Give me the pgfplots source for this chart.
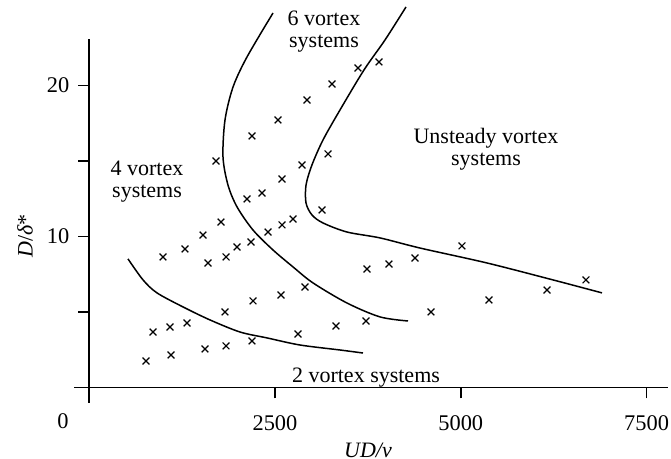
\documentclass[border=0pt]{standalone}
\usepackage{fontspec}
\setmainfont{Liberation Serif}
\usepackage{pgfplots}
\pgfplotsset{compat=1.18}
\begin{document}
\fontsize{11}{13}\selectfont
\begin{tikzpicture}
\begin{axis}[
  scale only axis, width=297.0pt, height=182.05pt,
  xmin=-200, xmax=7790, ymin=-1, ymax=23.1,
  axis lines=middle,
  axis line style={-, line width=0.8pt},
  every inner x axis line/.append style={-},
  every inner y axis line/.append style={-},
  clip=false,
  xtick={2500,5000,7500}, ytick={5,10,15,20}, yticklabels={,10,,20},
  tick align=outside, major tick length=5.5pt,
  tick style={line width=0.8pt, black},
  /pgf/number format/assume math mode=true,
  /pgf/number format/set thousands separator={},
  ticklabel style={font=\fontsize{11.2}{13}\selectfont},
  xticklabel style={yshift=-4.5pt},
  yticklabel style={xshift=-0.5pt},
  xlabel={\textit{UD/ν}}, ylabel={\textit{D}/\textit{δ}*},
  every axis x label/.style={at={(axis cs:3752,-4.14)}, anchor=center},
  every axis y label/.style={at={(axis cs:-862,10.03)}, anchor=center, rotate=90},
]
% experimental points
\addplot[only marks, mark=x, mark size=2.4pt, mark options={line width=0.6pt}] table {
x y
3900 21.55
3617 21.15
3268 20.09
2931 19.03
2541 17.71
2191 16.65
1707 14.99
3214 15.46
2864 14.73
2595 13.80
2326 12.87
2124 12.48
3133 11.75
2743 11.15
2595 10.76
2407 10.29
2178 9.63
1990 9.30
1842 8.64
1599 8.24
1774 10.95
1532 10.09
1290 9.17
994 8.64
860 3.67
1088 4.00
1317 4.27
1828 5.00
2205 5.73
2581 6.12
2904 6.65
3738 7.84
4034 8.17
4384 8.57
5016 9.37
6684 7.12
6160 6.45
5379 5.79
4599 5.00
3725 4.40
3321 4.07
2810 3.54
765 1.75
1102 2.15
1559 2.55
1842 2.75
2191 3.08
};
% boundary 2/4 vortex systems
\addplot[smooth, tension=0.5, line width=0.75pt] table {
x y
523 8.51
725 7.12
913 6.26
1263 5.33
1626 4.47
2030 3.67
2393 3.28
2837 2.81
3375 2.48
3684 2.28
};
% boundary 4/6 vortex systems
\addplot[smooth, tension=0.5, line width=0.75pt] table {
x y
2474 24.79
2124 21.88
1936 19.89
1828 17.71
1801 15.26
1868 13.40
1990 11.95
2205 10.42
2474 9.10
2743 7.98
3012 6.92
3469 5.59
3913 4.67
4290 4.40
};
% boundary 6 vortex / unsteady
\addplot[smooth, tension=0.5, line width=0.75pt] table {
x y
4263 25.19
3980 23.00
3698 21.02
3375 18.37
3146 16.38
2998 14.73
2918 13.40
2918 12.21
2998 11.42
3146 10.89
3469 10.29
3913 9.90
4451 9.23
5353 8.24
6240 7.12
6900 6.26
};
\node at (axis cs:-351,-2.2) {\fontsize{11.2}{13}\selectfont 0};
\node[align=center, font=\fontsize{11}{11}\selectfont] at (axis cs:779,13.6) {4 vortex\\systems};
\node[align=center, font=\fontsize{11}{11}\selectfont] at (axis cs:3160,23.53) {6 vortex\\systems};
\node[align=center, font=\fontsize{11}{11}\selectfont] at (axis cs:5339,15.79) {Unsteady vortex\\systems};
\node[font=\fontsize{11}{11}\selectfont] at (axis cs:3725,0.65) {2 vortex systems};
\coordinate (bbll) at (axis cs:-1199,-4.73);
\coordinate (bbur) at (axis cs:7828,25.65);
\end{axis}
\pgfresetboundingbox
\path[use as bounding box] (bbll) rectangle (bbur);
\end{tikzpicture}
\end{document}
